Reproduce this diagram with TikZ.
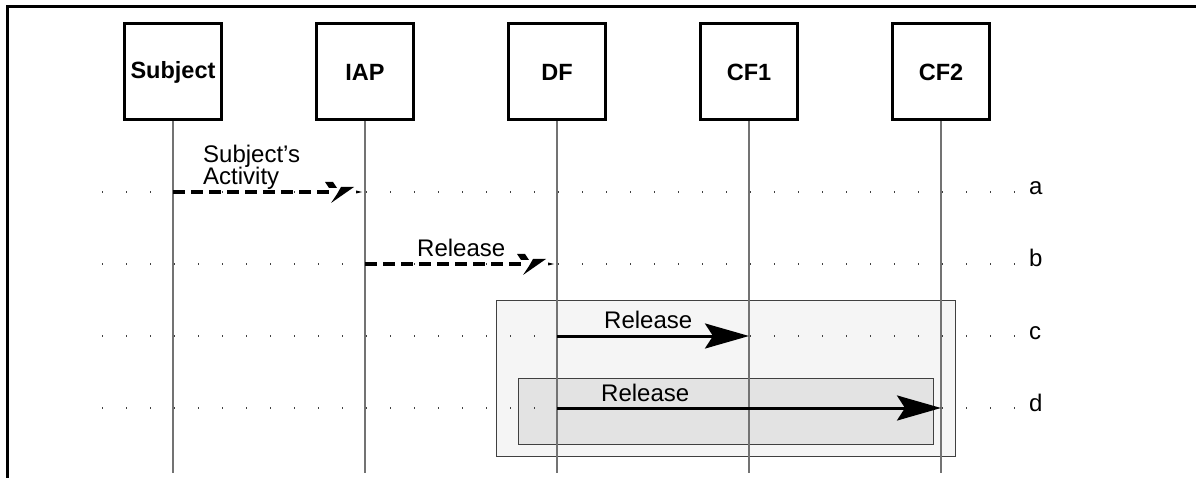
\documentclass[tikz,border=0pt]{standalone}
\usepackage{fontspec}
\setmainfont{Liberation Sans}
\usetikzlibrary{arrows.meta}
\newcommand\mydashhead[1]{%
  \begin{scope}[shift={(#1)}]
    % upper barb piece
    \fill[black] (-37,-10) -- (-29,-10) -- (-25,-4) -- (-33,-4) -- cycle;
    % big lower piece
    \fill[black] (-21,-5) -- (-8,-5) -- (-31,11) -- (-25,2) -- cycle;
    % tip piece
    \fill[black] (-6,-1.5) -- (0,0) -- (-6,1.5) -- cycle;
  \end{scope}}
\begin{document}
\begin{tikzpicture}[x=1pt,y=-1pt,
  actor/.style={draw,line width=3pt,minimum width=97pt,minimum height=96pt,inner sep=0pt,font=\fontsize{23.5}{26}\selectfont\bfseries},
  life/.style={draw=black!55,line width=1.5pt},
  dotrow/.style={black!75,line width=1.2pt,dash pattern=on 1.2pt off 22.8pt},
  msg/.style={line width=3pt,-{Stealth[length=44pt,width=25pt,inset=8pt]}},
  dmsg/.style={line width=3.2pt,dash pattern=on 12pt off 6pt},
  lbl/.style={font=\fontsize{24}{22}\selectfont,inner sep=0pt},
  outerbox/.style={draw=black!75,fill=black!4,line width=1pt},
  innerbox/.style={draw=black!75,fill=black!11,line width=1pt},
]
\useasboundingbox (0,0) rectangle (1196,478);
\draw[line width=3pt] (7,478) -- (7,7) -- (1196,7);

% shaded frames
\path[outerbox] (496,300) rectangle (955,456);
\path[innerbox] (518,378) rectangle (933,444);

% dotted rows
\foreach \r/\y in {a/192,b/264,c/336,d/408}{
  \coordinate (row\r-w) at (102,\y);
  \coordinate (row\r-e) at (1015,\y);
  \draw[dotrow] (row\r-w) -- (row\r-e);
  \node[lbl,anchor=base west] (lab\r) at (1029,\y+3) {\r};
}

% actors
\node[actor] (subj) at (173,72) {Subject};
\node[actor] (iap)  at (365,72) {IAP};
\node[actor] (df)   at (557,72) {DF};
\node[actor] (cf1)  at (749,72) {CF1};
\node[actor] (cf2)  at (941,72) {CF2};

\foreach \n in {subj,iap,df,cf1,cf2}{
  \coordinate (\n-end) at (\n.south |- 0,473);
  \draw[life] (\n.south) -- (\n-end);
}

% message coordinates
\coordinate (subj-a) at (subj.south |- rowa-w);
\coordinate (iap-a)  at (iap.south |- rowa-w);
\coordinate (iap-b)  at (iap.south |- rowb-w);
\coordinate (df-b)   at (df.south |- rowb-w);
\coordinate (df-c)   at (df.south |- rowc-w);
\coordinate (cf1-c)  at (cf1.south |- rowc-w);
\coordinate (df-d)   at (df.south |- rowd-w);
\coordinate (cf2-d)  at (cf2.south |- rowd-w);

% a: dashed
\draw[dmsg] (subj-a) -- ([xshift=-33pt]iap-a);
\mydashhead{[xshift=-3pt]iap-a}
\node[lbl,anchor=base west,align=left] (ta) at (203,163) {Subject’s};
\node[lbl,anchor=base west,align=left] (ta2) at (203,185) {Activity};

% b: dashed
\draw[dmsg] (iap-b) -- ([xshift=-33pt]df-b);
\mydashhead{[xshift=-3pt]df-b}
\node[lbl,anchor=base west] (tb) at (417,257) {Release};

% c, d: solid
\draw[msg] (df-c) -- (cf1-c);
\node[lbl,anchor=base west] (tc) at (604,328) {Release};
\draw[msg] (df-d) -- (cf2-d);
\node[lbl,anchor=base west] (td) at (601,401) {Release};
\end{tikzpicture}
\end{document}
